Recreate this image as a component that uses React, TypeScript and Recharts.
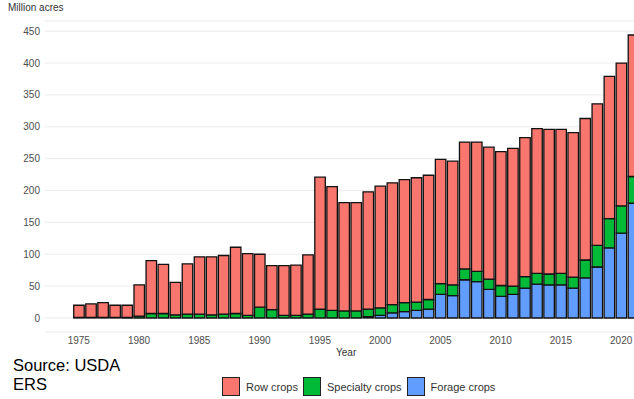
import { BarChart, Bar, XAxis, YAxis, CartesianGrid } from "recharts";

const years = [
  1975, 1976, 1977, 1978, 1979, 1980, 1981, 1982, 1983, 1984,
  1985, 1986, 1987, 1988, 1989, 1990, 1991, 1992, 1993, 1994,
  1995, 1996, 1997, 1998, 1999, 2000, 2001, 2002, 2003, 2004,
  2005, 2006, 2007, 2008, 2009, 2010, 2011, 2012, 2013, 2014,
  2015, 2016, 2017, 2018, 2019, 2020, 2021,
];

// million acres
const rowCrops = [
  19, 21, 23, 19, 19, 49, 83, 77, 51, 79,
  90, 91, 92, 104, 97, 83, 69, 78, 79, 93,
  207, 194, 170, 170, 184, 191, 191, 193, 195, 195,
  195, 194, 199, 203, 207, 210, 216, 218, 227, 227,
  226, 227, 222, 222, 223, 224, 222,
];
const specialtyCrops = [
  1, 1, 1, 1, 1, 3, 7, 7, 5, 6,
  6, 5, 6, 7, 4, 17, 13, 4, 4, 6,
  14, 12, 11, 11, 12, 12, 13, 14, 13, 15,
  17, 17, 17, 16, 16, 17, 13, 18, 17, 17,
  18, 17, 28, 34, 46, 43, 42,
];
const forageCrops = [
  0, 0, 0, 0, 0, 0, 0, 0, 0, 0,
  0, 0, 0, 0, 0, 0, 0, 0, 0, 0,
  0, 0, 0, 0, 2, 4, 8, 10, 12, 14,
  37, 35, 60, 57, 45, 34, 37, 47, 53, 52,
  52, 47, 63, 80, 110, 133, 180,
];

const yTicks = [0, 50, 100, 150, 200, 250, 300, 350, 400, 450];
const xTicks = [1975, 1980, 1985, 1990, 1995, 2000, 2005, 2010, 2015, 2020];

const series = [
  { key: "row", name: "Row crops", color: "#F8766D" },
  { key: "specialty", name: "Specialty crops", color: "#00BA38" },
  { key: "forage", name: "Forage crops", color: "#619CFF" },
];

const data = years.map((year, i) => ({
  year,
  forage: forageCrops[i],
  specialty: specialtyCrops[i],
  row: rowCrops[i],
}));

const font = "'Liberation Sans', Arial, sans-serif";
const tickStyle = { fontSize: 10, fill: "#4d4d4d", fontFamily: font };

export default function App() {
  return (
    <div
      style={{
        position: "absolute",
        left: 0,
        top: 0,
        width: 634,
        height: 399,
        overflow: "hidden",
        background: "#fff",
        fontFamily: font,
      }}
    >
      <div style={{ position: "absolute", left: 8, top: 2, fontSize: 10, color: "#333" }}>
        Million acres
      </div>
      <div style={{ position: "absolute", left: 0, top: 0 }}>
        <BarChart
          width={680}
          height={399}
          data={data}
          margin={{ top: 21, right: 13, left: 0, bottom: 37 }}
          barGap={0}
        >
          <CartesianGrid vertical={false} stroke="#ebebeb" strokeWidth={1} />
          <XAxis
            dataKey="year"
            type="number"
            domain={[1972.2, 2023.8]}
            ticks={xTicks}
            axisLine={false}
            tickLine={false}
            tickSize={0}
            tickMargin={5}
            height={30}
            tick={tickStyle}
            interval={0}
          />
          <YAxis
            domain={[-22, 466]}
            ticks={yTicks}
            allowDataOverflow
            axisLine={false}
            tickLine={false}
            tickSize={0}
            tickMargin={5}
            width={45}
            tick={tickStyle}
            interval={0}
          />
          <Bar dataKey="forage" stackId="a" fill="#619CFF" stroke="#111" strokeWidth={1.3} barSize={10.5} isAnimationActive={false} />
          <Bar dataKey="specialty" stackId="a" fill="#00BA38" stroke="#111" strokeWidth={1.3} barSize={10.5} isAnimationActive={false} />
          <Bar dataKey="row" stackId="a" fill="#F8766D" stroke="#111" strokeWidth={1.3} barSize={10.5} isAnimationActive={false} />
        </BarChart>
      </div>
      <div style={{ position: "absolute", left: 336, top: 347, fontSize: 10, color: "#333" }}>Year</div>
      <div style={{ position: "absolute", left: 13, top: 356, fontSize: 16.5, lineHeight: "19px", color: "#000" }}>
        Source: USDA
        <br />
        ERS
      </div>
      <div
        style={{
          position: "absolute",
          left: 222,
          top: 377,
          display: "flex",
          alignItems: "center",
          fontSize: 11,
          color: "#333",
        }}
      >
        {series.map((s) => (
          <div key={s.key} style={{ display: "flex", alignItems: "center", marginRight: 5 }}>
            <div
              style={{
                width: 16,
                height: 17,
                background: s.color,
                border: "1px solid #222",
                marginRight: 6,
              }}
            />
            <span>{s.name}</span>
          </div>
        ))}
      </div>
    </div>
  );
}
